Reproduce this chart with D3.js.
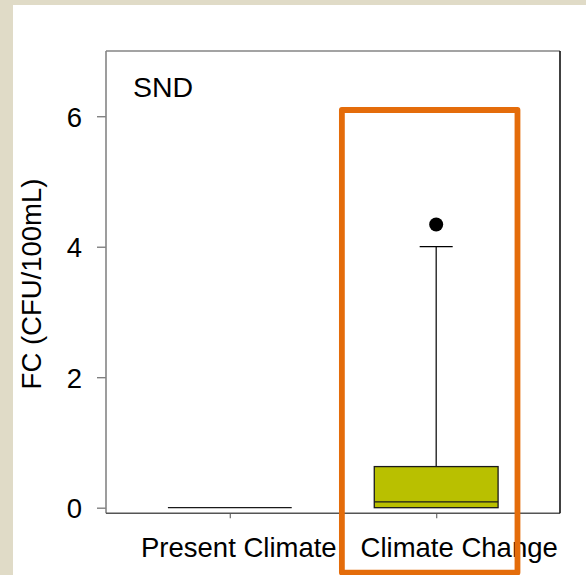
<!DOCTYPE html>
<html>
<head>
<meta charset="utf-8">
<script src="https://cdn.jsdelivr.net/npm/d3@7"></script>
<style>
  html, body { margin: 0; padding: 0; background: #e0dbc7; }
  svg { display: block; }
  text { font-family: "Liberation Sans", Arial, sans-serif; fill: #000; }
</style>
</head>
<body>
<svg id="chart" width="586" height="575"></svg>
<script>
// Groups along the x axis
const groups = ["Present Climate", "Climate Change"];
// Box statistics per group (FC, CFU/100mL)
const whiskerLow  = [0, 0];
const quartile1   = [0, 0];
const medians     = [0, 0.09];
const quartile3   = [0, 0.63];
const whiskerHigh = [0, 4.0];
// Outlying observations: [group index, value]
const outliers = [[1, 4.34]];
// Y axis ticks
const yTicks = [0, 2, 4, 6];
const panelTitle = "SND";
const yTitle = "FC (CFU/100mL)";

const svg = d3.select("#chart");

// white page panel
svg.append("rect").attr("x", 13).attr("y", 5).attr("width", 586 - 13).attr("height", 575 - 5)
  .attr("fill", "#ffffff");

const plot = { left: 106, right: 560, top: 51, bottom: 513.3 };

const x = d3.scaleLinear().domain([0.4, 2.6]).range([plot.left, plot.right]);
const y = d3.scaleLinear().domain([-0.086, 7]).range([plot.bottom, plot.top]);
const boxHalf = 0.3;
const capHalf = 0.08;

// y axis
const yAxis = svg.append("g")
  .attr("transform", `translate(${plot.left},0)`)
  .call(d3.axisLeft(y).tickValues(yTicks).tickSize(9).tickPadding(15).tickFormat(d3.format("d")));
yAxis.select(".domain").remove();
yAxis.selectAll(".tick line").attr("stroke", "#777").attr("stroke-width", 1.3);
yAxis.selectAll(".tick text").attr("font-size", 27.5).attr("dy", "0.36em")
  .attr("font-family", "Liberation Sans, Arial, sans-serif").attr("fill", "#000");

// x axis
const labelShift = [8.5, 22.5];
const xAxis = svg.append("g")
  .attr("transform", `translate(0,${plot.bottom})`)
  .call(d3.axisBottom(x).tickValues([1, 2]).tickSize(5).tickPadding(19)
    .tickFormat((d, i) => groups[i]));
xAxis.select(".domain").remove();
xAxis.selectAll(".tick line").attr("stroke", "#777").attr("stroke-width", 1.3);
xAxis.selectAll(".tick text").attr("font-size", 27.5)
  .attr("font-family", "Liberation Sans, Arial, sans-serif").attr("fill", "#000")
  .attr("dx", (d, i) => labelShift[i]);

// plot frame: lighter top/left, darker right/bottom
svg.append("line").attr("x1", plot.left).attr("x2", plot.right).attr("y1", plot.top).attr("y2", plot.top)
  .attr("stroke", "#858585").attr("stroke-width", 1.6);
svg.append("line").attr("x1", plot.left).attr("x2", plot.left).attr("y1", plot.top).attr("y2", plot.bottom)
  .attr("stroke", "#858585").attr("stroke-width", 1.6);
svg.append("line").attr("x1", plot.left).attr("x2", plot.right).attr("y1", plot.bottom).attr("y2", plot.bottom)
  .attr("stroke", "#555", 1).attr("stroke-width", 1.6);
svg.append("line").attr("x1", plot.right).attr("x2", plot.right).attr("y1", plot.top).attr("y2", plot.bottom)
  .attr("stroke", "#111").attr("stroke-width", 1.6);

// boxes
const boxes = svg.append("g");
groups.forEach((g, i) => {
  const cx = x(i + 1);
  const flat = quartile3[i] === quartile1[i];
  if (whiskerHigh[i] > quartile3[i]) {
    boxes.append("line").attr("x1", cx).attr("x2", cx)
      .attr("y1", y(quartile3[i])).attr("y2", y(whiskerHigh[i]))
      .attr("stroke", "#000").attr("stroke-width", 1.2);
    boxes.append("line").attr("x1", x(i + 1 - capHalf)).attr("x2", x(i + 1 + capHalf))
      .attr("y1", y(whiskerHigh[i])).attr("y2", y(whiskerHigh[i]))
      .attr("stroke", "#000").attr("stroke-width", 1.2);
  }
  if (whiskerLow[i] < quartile1[i]) {
    boxes.append("line").attr("x1", cx).attr("x2", cx)
      .attr("y1", y(quartile1[i])).attr("y2", y(whiskerLow[i]))
      .attr("stroke", "#000").attr("stroke-width", 1.2);
  }
  if (!flat) {
    boxes.append("rect")
      .attr("x", x(i + 1 - boxHalf)).attr("width", x(i + 1 + boxHalf) - x(i + 1 - boxHalf))
      .attr("y", y(quartile3[i])).attr("height", y(quartile1[i]) - y(quartile3[i]))
      .attr("fill", "#b9c000").attr("stroke", "#1a1a1a").attr("stroke-width", 1.3);
  }
  boxes.append("line").attr("x1", x(i + 1 - boxHalf)).attr("x2", x(i + 1 + boxHalf))
    .attr("y1", y(medians[i])).attr("y2", y(medians[i]))
    .attr("stroke", "#1a1a1a").attr("stroke-width", 1.3);
});

// outliers
svg.append("g").selectAll("circle").data(outliers).join("circle")
  .attr("cx", d => x(d[0] + 1)).attr("cy", d => y(d[1])).attr("r", 7)
  .attr("fill", "#000");

// panel title
svg.append("text").attr("x", 133).attr("y", 97).attr("font-size", 28.5).text(panelTitle);

// y axis title
svg.append("text").attr("transform", "translate(41,284) rotate(-90)")
  .attr("text-anchor", "middle").attr("font-size", 27.5).text(yTitle);

// highlight frame around the climate-change group
const hl = { x0: x(2) - 94.3, x1: x(2) + 81.3, y0: 110, y1: 572.6 };
svg.append("rect").attr("x", hl.x0).attr("y", hl.y0)
  .attr("width", hl.x1 - hl.x0).attr("height", hl.y1 - hl.y0)
  .attr("fill", "none").attr("stroke", "#e46c0a").attr("stroke-width", 5.8)
  .attr("stroke-linejoin", "round");
</script>
</body>
</html>
